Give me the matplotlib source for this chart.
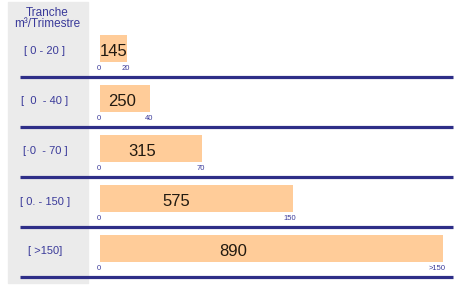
import numpy as np
import matplotlib
matplotlib.use('Agg')
import matplotlib.pyplot as plt
from matplotlib.patches import Rectangle

plt.rcParams['font.family'] = ['Liberation Sans', 'DejaVu Sans']

# data
tranches = ['[ 0 - 20 ]', '[  0  - 40 ]', '[·0  - 70 ]', '[ 0. - 150 ]', '[ >150]']
values = [145, 250, 315, 575, 890]
end_labels = ['20', '40', '70', '150', '>150']
bar_len = [27, 50, 102, 193, 343]   # bar lengths on the chart's own scale

bar_color = '#FFCC99'
navy = '#2E2E88'
label_blue = '#3A3A9A'

fig = plt.figure(figsize=(4.55, 2.93), dpi=100)
ax = fig.add_axes([0, 0, 1, 1])
ax.set_xlim(-100, 355)
ax.set_ylim(4.89, -0.97)
ax.axis('off')

# grey column behind the tranche labels
ax.add_patch(Rectangle((-92, -0.93), 80, 5.62, color='#EBEBEB', zorder=0))

y = np.arange(len(values))
ax.barh(y, bar_len, height=0.54, left=0, color=bar_color, zorder=2)

# separators under every row
ax.hlines(y + 0.56, -80, 353, color=navy, linewidth=2.3, zorder=3)

ax.text(-53, -0.6, 'Tranche\nm³/Trimestre', ha='center', va='center',
        fontsize=8.5, color=label_blue, linespacing=0.85)

for i in range(len(values)):
    ax.text(-55, i + 0.06, tranches[i], ha='center', va='center',
            fontsize=8, color=label_blue)
    ax.text(0.38 * bar_len[i] + 3, i + 0.06, str(values[i]), ha='center',
            va='center', fontsize=12, color='#221a10', zorder=4)
    ax.text(-1.5, i + 0.39, '0', ha='center', va='center', fontsize=5.5,
            color=label_blue)
    ax.text(bar_len[i] + 3, i + 0.39, end_labels[i], ha='right', va='center',
            fontsize=5.5, color=label_blue)

fig.savefig('out.png', dpi=100)
